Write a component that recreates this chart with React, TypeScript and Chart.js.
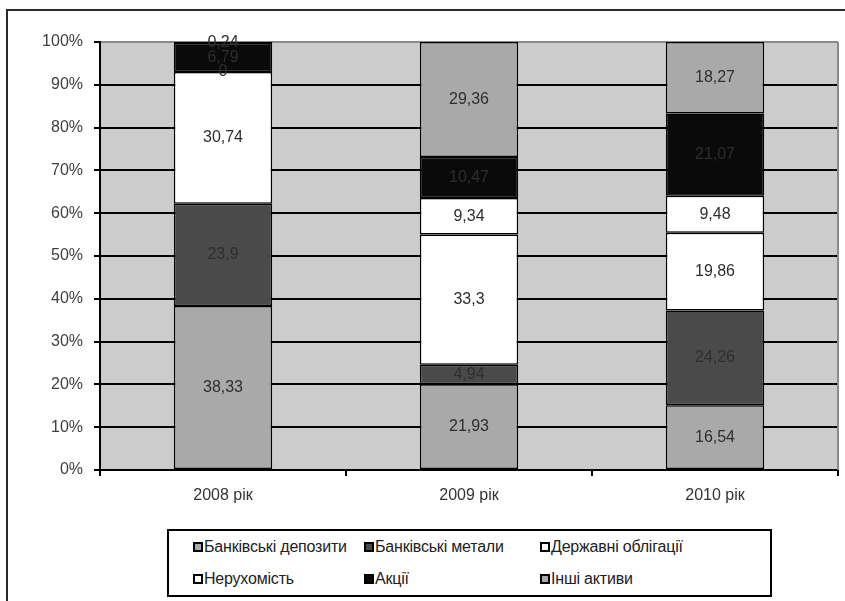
import React, { useEffect, useRef } from "react";
import { Chart, registerables } from "chart.js";

Chart.register(...registerables);

const categories = ["2008 рік", "2009 рік", "2010 рік"];
const seriesNames = [
  "Банківські депозити",
  "Банківські метали",
  "Державні облігації",
  "Нерухомість",
  "Акції",
  "Інші активи",
];
const deposits = [38.33, 21.93, 16.54];
const metals = [23.9, 4.94, 24.26];
const bonds = [30.74, 33.3, 19.86];
const realEstate = [0, 9.34, 9.48];
const shares = [6.79, 10.47, 21.07];
const other = [0.24, 29.36, 18.27];
const yTickValues = [0, 10, 20, 30, 40, 50, 60, 70, 80, 90, 100];

const seriesValues = [deposits, metals, bonds, realEstate, shares, other];
const seriesColors = ["#a9a9a9", "#4a4a4a", "#ffffff", "#ffffff", "#0a0a0a", "#a9a9a9"];

const FONT = "'Liberation Sans', Arial, sans-serif";

const totals = categories.map((_, i) =>
  seriesValues.reduce((s, arr) => s + arr[i], 0)
);

const framePlugin = {
  id: "frame",
  beforeDraw(chart: any) {
    const { ctx, chartArea } = chart;
    ctx.save();
    ctx.strokeStyle = "#2a2a2a";
    ctx.lineWidth = 2;
    ctx.strokeRect(7, 10, 1000, 1000);
    ctx.fillStyle = "#cccccc";
    ctx.fillRect(chartArea.left, chartArea.top, chartArea.right - chartArea.left, chartArea.bottom - chartArea.top);
    ctx.restore();
  },
  afterDatasetsDraw(chart: any) {
    const { ctx, chartArea } = chart;
    ctx.save();
    ctx.strokeStyle = "#8a8a8a";
    ctx.lineWidth = 2;
    ctx.beginPath();
    ctx.moveTo(chartArea.right, chartArea.top);
    ctx.lineTo(chartArea.right, chartArea.bottom);
    ctx.stroke();
    ctx.restore();
  },
};

const labelPlugin = {
  id: "valueLabels",
  afterDatasetsDraw(chart: any) {
    const { ctx } = chart;
    ctx.save();
    ctx.font = `16px ${FONT}`;
    ctx.fillStyle = "#2e2e2e";
    ctx.textAlign = "center";
    ctx.textBaseline = "middle";
    chart.data.datasets.forEach((ds: any, di: number) => {
      const meta = chart.getDatasetMeta(di);
      meta.data.forEach((el: any, i: number) => {
        const raw = ds.rawValues[i];
        const cy = (el.y + el.base) / 2;
        ctx.fillText(String(raw).replace(".", ","), el.x, cy);
      });
    });
    ctx.restore();
  },
};

export default function App() {
  const canvasRef = useRef<HTMLCanvasElement | null>(null);

  useEffect(() => {
    if (!canvasRef.current) return;
    const chart = new Chart(canvasRef.current, {
      type: "bar",
      data: {
        labels: categories,
        datasets: seriesNames.map((name, si) => ({
          label: name,
          data: seriesValues[si].map((v, i) => (v / totals[i]) * 100),
          rawValues: seriesValues[si],
          backgroundColor: seriesColors[si],
          borderColor: "#000000",
          borderWidth: 1.5,
          borderSkipped: false,
          barPercentage: 0.4,
          categoryPercentage: 1,
        })) as any,
      },
      options: {
        animation: false,
        responsive: false,
        layout: { padding: { left: 0, top: 42, right: 7, bottom: 0 } },
        plugins: {
          legend: { display: false },
          tooltip: { enabled: false },
        },
        scales: {
          x: {
            stacked: true,
            grid: {
              display: true,
              drawOnChartArea: false,
              drawTicks: true,
              tickLength: 6,
              color: "#000",
              lineWidth: 2,
              offset: true,
            },
            border: { display: true, color: "#000", width: 2 },
            ticks: { color: "#333", font: { family: FONT, size: 16 }, padding: 10 },
            afterFit: (s: any) => {
              s.height = 131;
            },
          },
          y: {
            stacked: true,
            min: 0,
            max: 100,
            afterBuildTicks: (s: any) => {
              s.ticks = yTickValues.map((v) => ({ value: v }));
            },
            ticks: {
              callback: (v: any) => v + "%",
              color: "#404040",
              font: { family: FONT, size: 16 },
              padding: 11,
            },
            grid: {
              color: (c: any) => (c.tick && c.tick.value === 100 ? "#8a8a8a" : "#000"),
              tickColor: "#000",
              lineWidth: 2,
              tickLength: 6,
            },
            border: { display: true, color: "#000", width: 2 },
            afterFit: (s: any) => {
              s.width = 100;
            },
          },
        },
      } as any,
      plugins: [framePlugin, labelPlugin],
    });
    return () => chart.destroy();
  }, []);

  const legendCols = [193, 364, 540];
  const legendRows = [547, 579];

  return (
    <div style={{ position: "absolute", left: 0, top: 0, width: 845, height: 601, overflow: "hidden", background: "#fff" }}>
      <canvas ref={canvasRef} width={845} height={601} style={{ position: "absolute", left: 0, top: 0 }} />
      <div
        style={{
          position: "absolute",
          left: 167,
          top: 529,
          width: 605,
          height: 68,
          border: "2px solid #000",
          boxSizing: "border-box",
          background: "#fff",
        }}
      />
      {seriesNames.map((name, i) => {
        const col = i % 3;
        const row = Math.floor(i / 3);
        return (
          <div
            key={name}
            style={{
              position: "absolute",
              left: legendCols[col],
              top: legendRows[row] - 10,
              height: 20,
              display: "flex",
              alignItems: "center",
              fontFamily: FONT,
              fontSize: 16,
              letterSpacing: "-0.2px",
              color: "#222",
              whiteSpace: "nowrap",
            }}
          >
            <span
              style={{
                display: "inline-block",
                width: 10,
                height: 10,
                boxSizing: "border-box",
                border: "2px solid #000",
                background: seriesColors[i],
                marginRight: 1,
              }}
            />
            <span>{name}</span>
          </div>
        );
      })}
    </div>
  );
}
